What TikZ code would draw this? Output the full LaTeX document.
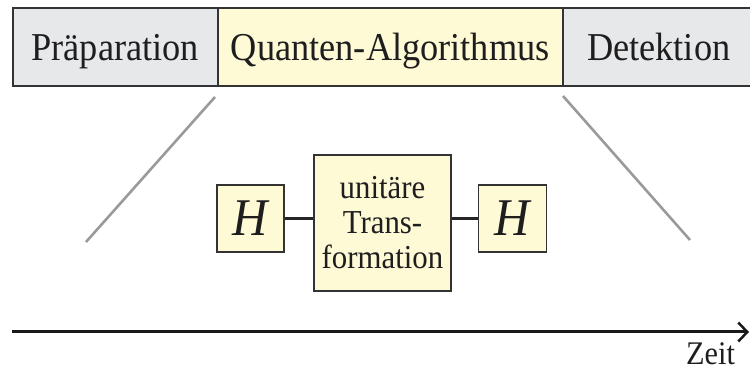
\documentclass[tikz,border=0pt]{standalone}
\usepackage{fontspec}
\setmainfont{Liberation Serif}[FakeStretch=0.92]
\usetikzlibrary{arrows.meta}
\definecolor{bargrey}{HTML}{E7E8EA}
\definecolor{pale}{HTML}{FEFAD6}
\definecolor{edge}{HTML}{333333}
\definecolor{ink}{HTML}{1E1E1E}
\definecolor{diag}{HTML}{9A9A9A}
\tikzset{
  barbox/.style={draw=edge, line width=1.5pt, minimum height=78pt, inner sep=0pt,
    anchor=north west, text=ink, font=\fontsize{39.5}{39.5}\selectfont,
    text height=27pt, text depth=0pt},
  gatebox/.style={draw=edge, line width=1.3pt, fill=pale, inner sep=0pt, text=ink},
  wire/.style={draw=black!85, line width=3pt},
  fan/.style={draw=diag, line width=2.6pt},
}
\begin{document}
\begin{tikzpicture}[x=1pt,y=-1pt]
\useasboundingbox (0,0) rectangle (750,371);
% top bar
\node[barbox, fill=bargrey, minimum width=205pt] (prep) at (12,7.5) {Präparation};
\node[barbox, fill=pale, minimum width=345pt] (quant) at (217,7.5) {Quanten-Algorithmus};
\node[barbox, fill=bargrey, minimum width=192pt] (det) at (562,7.5) {Detektion};
% fan lines
\coordinate (fl1) at (215,97);
\coordinate (fl2) at (86,242);
\coordinate (fr1) at (563,96);
\coordinate (fr2) at (690,240);
\draw[fan] (fl1) -- (fl2);
\draw[fan] (fr1) -- (fr2);
% gates
\node[gatebox, minimum width=67pt, minimum height=67pt, font=\fontsize{53}{53}\selectfont\itshape] (h1) at (250.5,218.5) {H};
\node[gatebox, minimum width=137pt, minimum height=136pt, align=center,
      font=\fontsize{33.5}{35}\selectfont] (ut) at (382.5,223) {unitäre\\Trans-\\formation};
\node[gatebox, minimum width=68pt, minimum height=67pt, font=\fontsize{53}{53}\selectfont\itshape] (h2) at (512.5,218.5) {H};
\draw[wire] (h1.east) -- (h1.east -| ut.west);
\draw[wire] (ut.east |- h2.west) -- (h2.west);
% time axis
\coordinate (t0) at (12,332);
\coordinate (t1) at (749,332);
\draw[line width=3pt, draw=black!90, -{Straight Barb[length=9pt,width=19pt,line width=2.5pt]}] (t0) -- (t1);
\node[anchor=base, text=ink, font=\fontsize{33}{33}\selectfont] (zeit) at (710.5,365) {Zeit};
\end{tikzpicture}
\end{document}
